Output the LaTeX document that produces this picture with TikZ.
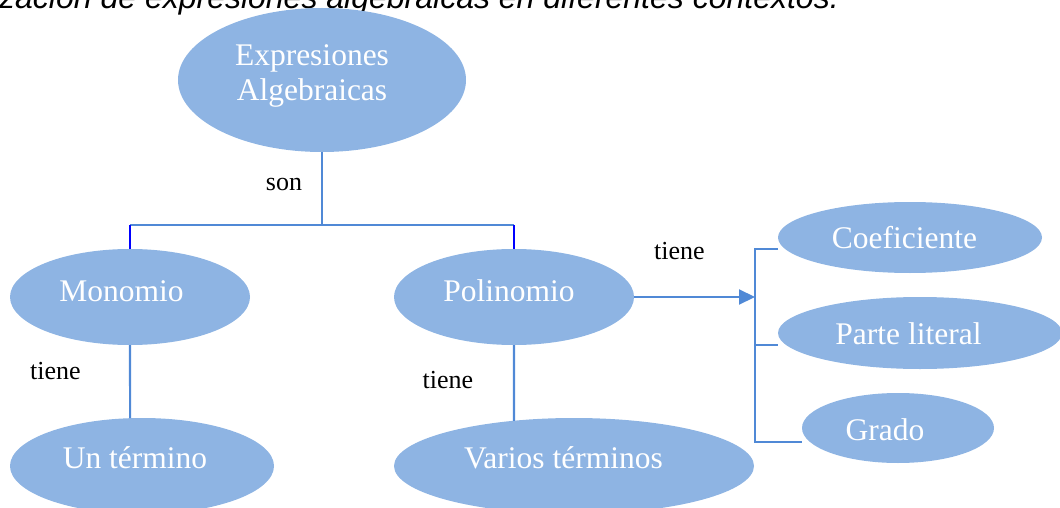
\documentclass[tikz,border=0pt]{standalone}
\usepackage{fontspec}
\setmainfont{Liberation Serif}
\newfontfamily\titlefont{Liberation Sans}
\usetikzlibrary{shapes.geometric,arrows.meta}
\definecolor{ellfill}{HTML}{8EB4E3}
\definecolor{linec}{HTML}{5089D6}
\definecolor{tickc}{HTML}{0000FF}
\begin{document}
\begin{tikzpicture}[x=1pt,y=-1pt,
  ell/.style={ellipse, fill=ellfill, draw=none, inner sep=0pt, outer sep=0pt},
  etext/.style={text=white, font=\fontsize{31.5}{35}\selectfont, inner sep=0pt, anchor=base},
  lab/.style={font=\fontsize{26}{30}\selectfont, inner sep=0pt, anchor=base},
  conn/.style={draw=linec, line width=2.1pt},
  tickline/.style={draw=tickc, line width=2.1pt},
]
\clip (0,0) rectangle (1060,508);
% title (cut off at top, as in the reference)
\node[inner sep=0pt, anchor=base west, font=\titlefont\itshape\fontsize{32}{36}\selectfont] (title) at (-1,9) {zación de expresiones algebraicas en diferentes contextos.};
% ellipses
\node[ell, minimum width=288pt, minimum height=144pt] (expr) at (322,80) {};
\node[etext, anchor=center, align=center] (exprT) at (312,75.5) {Expresiones\\Algebraicas};
\node[ell, minimum width=240pt, minimum height=96pt] (mono) at (130,297) {};
\node[etext] (monoT) at (121.5,301) {Monomio};
\node[ell, minimum width=240pt, minimum height=96pt] (poli) at (514,297) {};
\node[etext] (poliT) at (509,301) {Polinomio};
\node[ell, minimum width=264pt, minimum height=96pt] (unt) at (142,466) {};
\node[etext] (untT) at (135,468) {Un término};
\node[ell, minimum width=360pt, minimum height=96pt] (var) at (574,466) {};
\node[etext] (varT) at (563.5,468) {Varios términos};
\node[ell, minimum width=264pt, minimum height=71pt] (coef) at (910,237.5) {};
\node[etext] (coefT) at (904.5,248) {Coeficiente};
\node[ell, minimum width=284pt, minimum height=72pt] (lit) at (920,333) {};
\node[etext] (litT) at (908.5,344) {Parte literal};
\node[ell, minimum width=192pt, minimum height=70pt] (grado) at (898,428) {};
\node[etext] (gradoT) at (885,440) {Grado};
% labels
\node[lab] (son) at (284,190) {son};
\node[lab] (t1) at (679.5,259) {tiene};
\node[lab] (t2) at (55.5,379) {tiene};
\node[lab] (t3) at (448,388) {tiene};
% connectors
\coordinate (j) at (322,225);
\coordinate (jl) at (130,225);
\coordinate (jr) at (514,225);
\draw[conn] (expr.south) -- (j);
\draw[conn] (jl) -- (jr);
\draw[tickline] (jl) -- (mono.north);
\draw[tickline] (jr) -- (poli.north);
\draw[conn] (mono.south) -- (unt.104);
\draw[conn] (poli.south) -- (var.143);
\coordinate (ba) at (755,297);
\draw[conn, -{Triangle[length=16pt,width=15pt]}] (poli.east) -- (ba);
\coordinate (bt) at (755,249);
\coordinate (bm) at (755,345);
\coordinate (bb) at (755,442);
\draw[conn] (bt -| coef.west) -- (bt) -- (bb) -- (bb -| grado.west);
\draw[conn] (bm) -- (bm -| lit.west);
\end{tikzpicture}
\end{document}
